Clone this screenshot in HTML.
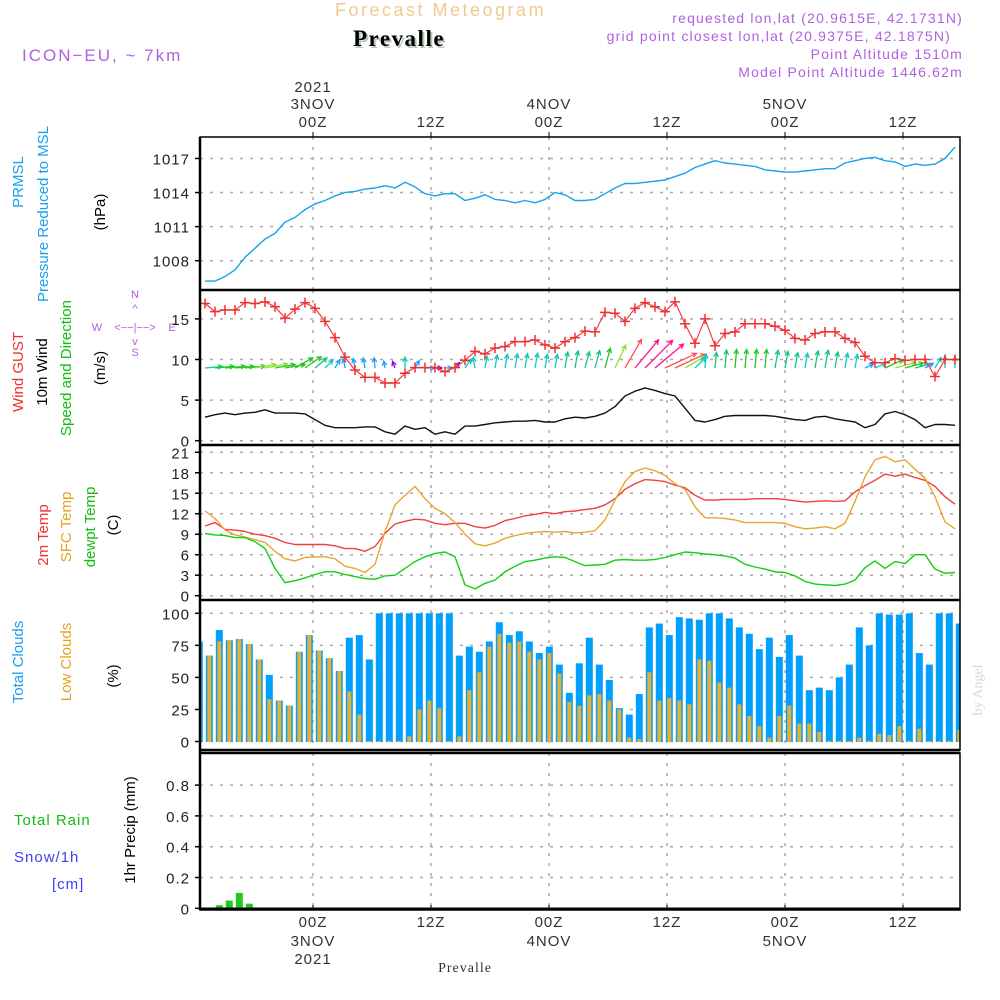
<!DOCTYPE html>
<html><head><meta charset="utf-8"><title>Forecast Meteogram Prevalle</title>
<style>
html,body{margin:0;padding:0;background:#fff;width:1000px;height:1000px;overflow:hidden}
svg{display:block;font-family:"Liberation Sans",sans-serif}
.tk{font-size:15px;fill:#222;letter-spacing:1px}
.tt{font-size:15px;fill:#333;letter-spacing:1px}
.pl{font-size:14px;letter-spacing:1.2px;fill:#b060e0}
</style></head><body>
<svg id="chart" width="1000" height="1000" viewBox="0 0 1000 1000">
<text x="335" y="16" font-size="18" fill="#f2c890" letter-spacing="2.5">Forecast Meteogram</text>
<text x="355" y="48" font-size="23" font-weight="bold" font-family="Liberation Serif,serif" fill="#b8c8b8" letter-spacing="1.5">Prevalle</text>
<text x="353" y="46" font-size="23" font-weight="bold" font-family="Liberation Serif,serif" fill="#000" letter-spacing="1.5">Prevalle</text>
<text x="22" y="61" font-size="17" fill="#b060e0" letter-spacing="2">ICON−EU, ~ 7km</text>
<text class="pl" x="963" y="23" text-anchor="end">requested lon,lat (20.9615E, 42.1731N)</text>
<text class="pl" x="951" y="41" text-anchor="end">grid point closest lon,lat (20.9375E, 42.1875N)</text>
<text class="pl" x="963" y="59" text-anchor="end">Point Altitude 1510m</text>
<text class="pl" x="963" y="77" text-anchor="end">Model Point Altitude 1446.62m</text>

<g font-size="15">
<text transform="translate(23,182) rotate(-90)" text-anchor="middle" fill="#1aa0f0">PRMSL</text>
<text transform="translate(48,214) rotate(-90)" text-anchor="middle" fill="#1aa0f0">Pressure Reduced to MSL</text>
<text transform="translate(105,212) rotate(-90)" text-anchor="middle" fill="#000">(hPa)</text>
<text transform="translate(23,372) rotate(-90)" text-anchor="middle" fill="#f03030">Wind GUST</text>
<text transform="translate(47,372) rotate(-90)" text-anchor="middle" fill="#000">10m Wind</text>
<text transform="translate(71,368) rotate(-90)" text-anchor="middle" fill="#10c010">Speed and Direction</text>
<text transform="translate(105,368) rotate(-90)" text-anchor="middle" fill="#000">(m/s)</text>
<g font-size="11" fill="#b060e0">
<text x="135" y="298" text-anchor="middle">N</text><text x="135" y="312" text-anchor="middle">^</text>
<text x="97" y="331" text-anchor="middle">W</text><text x="135" y="331" text-anchor="middle">&lt;−−|−−&gt;</text>
<text x="172" y="331" text-anchor="middle">E</text><text x="135" y="345" text-anchor="middle">v</text><text x="135" y="356" text-anchor="middle">S</text>
</g>
<text transform="translate(48,535) rotate(-90)" text-anchor="middle" fill="#f03030">2m Temp</text>
<text transform="translate(71,527) rotate(-90)" text-anchor="middle" fill="#e8a020">SFC Temp</text>
<text transform="translate(95,527) rotate(-90)" text-anchor="middle" fill="#10c010">dewpt Temp</text>
<text transform="translate(118,525) rotate(-90)" text-anchor="middle" fill="#000">(C)</text>
<text transform="translate(23,662) rotate(-90)" text-anchor="middle" fill="#1aa0f0">Total Clouds</text>
<text transform="translate(71,662) rotate(-90)" text-anchor="middle" fill="#e8a020">Low Clouds</text>
<text transform="translate(118,676) rotate(-90)" text-anchor="middle" fill="#000">(%)</text>
<text x="14" y="825" fill="#10c010" letter-spacing="1">Total  Rain</text>
<text x="14" y="862" fill="#4040f0" letter-spacing="1">Snow/1h</text>
<text x="52" y="889" fill="#4040f0" letter-spacing="1">[cm]</text>
<text transform="translate(135,830) rotate(-90)" text-anchor="middle" fill="#000">1hr Precip (mm)</text>
</g>
<text transform="translate(982,690) rotate(-90)" text-anchor="middle" font-size="14" font-family="Liberation Serif,serif" fill="#d8d8d8">by Angel</text>
<text x="465" y="972" text-anchor="middle" font-size="14" font-family="Liberation Serif,serif" fill="#333" letter-spacing="1">Prevalle</text>
<g id="marks"></g>
</svg>
<script>
// ---- data ----
var timeTicks=["00Z","12Z","00Z","12Z","00Z","12Z"];
var dayTicks=["3NOV","","4NOV","","5NOV",""];
var yearTicks=["2021","","","","",""];
var pressure=[1006.2,1006.2,1006.6,1007.2,1008.3,1009.1,1009.9,1010.4,1011.4,1011.8,1012.5,1013.0,1013.3,1013.7,1014.0,1014.1,1014.3,1014.4,1014.6,1014.4,1014.9,1014.5,1013.9,1013.7,1013.9,1013.9,1013.3,1013.5,1013.8,1013.4,1013.3,1013.1,1013.3,1013.1,1013.4,1014.0,1013.8,1013.3,1013.3,1013.4,1013.9,1014.4,1014.8,1014.8,1014.9,1015.0,1015.1,1015.4,1015.7,1016.2,1016.5,1016.8,1016.6,1016.5,1016.4,1016.3,1016.0,1015.9,1015.8,1015.8,1015.9,1016.0,1016.1,1016.1,1016.6,1016.8,1017.0,1017.1,1016.8,1016.7,1016.3,1016.5,1016.4,1016.5,1017.0,1018.0];
var gust=[16.9,15.9,16.1,16.1,17.0,16.9,17.1,16.5,15.1,16.2,17.0,16.3,14.7,12.7,10.3,8.7,7.8,7.8,7.1,7.1,8.3,9.0,9.0,9.0,8.5,9.0,9.9,11.0,10.7,11.4,11.6,12.2,12.2,12.4,11.8,11.4,12.2,12.7,13.5,13.4,15.8,15.7,14.7,16.3,17.0,16.5,15.9,17.1,14.4,12.0,15.0,11.7,13.2,13.4,14.4,14.4,14.4,14.1,13.6,12.6,12.4,13.2,13.4,13.4,12.6,12.1,10.4,9.6,9.6,10.1,9.9,10.0,10.0,7.9,10.0,10.0];
var wind10=[2.9,3.2,3.4,3.2,3.4,3.5,3.8,3.4,3.4,3.4,3.3,2.6,1.9,1.6,1.6,1.6,1.7,1.7,1.1,0.8,1.8,1.4,1.6,0.8,1.1,0.8,1.8,1.8,2.0,2.2,2.3,2.4,2.4,2.5,2.3,2.3,2.7,2.9,2.8,3.0,3.4,4.2,5.5,6.1,6.5,6.2,5.8,5.5,4.0,2.5,2.3,2.6,3.0,3.1,3.1,3.1,3.1,3.0,2.8,2.6,2.5,2.9,3.0,2.7,2.5,2.3,1.6,2.0,3.3,3.6,3.2,2.6,1.6,2.0,2.0,1.9];
var windDir=[5,5,5,5,5,10,10,10,10,30,35,40,45,60,100,100,100,95,100,110,90,60,0,0,0,50,55,100,80,80,80,80,80,80,80,80,80,80,75,75,75,65,60,50,45,40,25,25,30,45,85,85,85,85,85,85,85,80,80,80,80,80,80,80,80,80,25,25,25,15,15,15,30,60,90,90];
var temp2m=[10.2,10.7,9.7,9.6,9.4,9.0,8.8,8.4,7.8,7.5,7.5,7.5,7.5,7.3,6.9,6.9,6.5,7.2,9.1,10.5,10.9,11.2,11.1,10.6,10.4,10.6,10.6,10.1,9.9,10.3,11.0,11.3,11.7,11.9,12.2,12.0,12.3,12.4,12.6,12.8,13.3,14.2,15.6,16.4,17.0,16.9,16.7,16.2,15.8,14.7,14.0,14.0,14.1,14.1,14.1,14.2,14.2,14.2,14.1,13.9,13.7,13.8,13.9,13.8,13.9,15.2,16.1,16.9,17.8,17.5,17.8,17.3,16.9,16.0,14.5,13.4];
var sfcTemp=[12.4,11.3,9.6,8.9,8.6,8.2,7.8,6.5,5.4,5.1,5.6,5.7,5.7,5.4,4.3,4.0,3.4,4.6,9.4,13.3,14.7,16.0,14.2,12.8,12.0,10.7,9.0,7.6,7.3,7.7,8.4,8.8,9.1,9.3,9.4,9.3,9.4,9.2,9.3,9.5,11.1,14.0,16.7,18.2,18.7,18.3,17.6,16.4,15.6,13.0,11.4,11.4,11.3,11.1,10.7,10.7,10.7,10.7,10.6,10.1,9.8,9.9,10.1,9.8,10.6,13.8,17.4,19.9,20.4,19.6,19.9,18.5,17.2,14.5,10.8,9.8];
var dewpt=[9.1,8.9,8.8,8.5,8.5,7.9,6.9,4.0,1.9,2.2,2.6,3.1,3.5,3.5,3.1,2.8,2.5,2.4,2.9,3.0,4.0,5.0,5.7,6.2,6.4,5.7,1.6,1.0,1.8,2.3,3.5,4.3,5.0,5.2,5.5,5.7,5.6,5.0,4.4,4.5,4.6,5.2,5.3,5.2,5.2,5.3,5.6,6.0,6.4,6.3,6.1,6.0,5.8,5.5,4.6,4.2,3.9,3.5,3.4,2.9,2.1,1.7,1.6,1.5,1.7,2.3,4.1,5.1,4.0,5.0,4.7,6.0,6.0,3.9,3.3,3.4];
var totalClouds=[78,67,87,79,80,76,64,52,32,28,70,83,71,65,55,81,83,64,100,100,100,100,100,100,100,100,67,74,70,78,93,83,86,78,69,74,60,38,61,81,60,48,26,21,37,89,92,83,97,96,95,100,100,96,89,84,72,81,66,83,67,40,42,40,50,60,89,75,100,99,99,100,69,60,100,100,92];
var lowClouds=[78,67,78,79,80,76,64,33,32,28,70,83,71,65,55,39,21,0.5,0.5,0.5,0.5,4,25,32,26,0.5,4,40,54,74,84,77,78,70,64,69,53,31,28,36,37,32,25,3,2,54,32,34,32,29,64,63,46,42,29,20,12,3,20,28,14,14,7.5,0.5,0.5,0.5,3,0.5,6,5,12,0.5,10,0.5,0.5,0.5,9];
var precip=[0,0,0.02,0.05,0.1,0.03,0,0,0,0,0,0,0,0,0,0,0,0,0,0,0,0,0,0,0,0,0,0,0,0,0,0,0,0,0,0,0,0,0,0,0,0,0,0,0,0,0,0,0,0.005,0,0,0,0,0,0,0,0,0,0,0,0,0,0,0,0,0,0,0,0,0,0,0,0,0,0,0];
var pTicks=[1008,1011,1014,1017];
var wTicks=[0,5,10,15];
var tTicks=[0,3,6,9,12,15,18,21];
var cTicks=[0,25,50,75,100];
var rTicks=[0,0.2,0.4,0.6,0.8];

// ---- axes ----
var L=200,R=960;
function lx(k){return 205+10*k;}
function bx(i){return 199.3+10*i;}
function gx(j){return 313+118*j;}
function yP(v){return 260.7-(v-1008)*11.36;}
function yW(v){return 440.7-v*8.12;}
function yT(v){return 595.7-v*6.83;}
function yC(v){return 741.5-v*1.282;}
function yR(v){return 908.3-v*154;}
var NS="http://www.w3.org/2000/svg";
var G=document.getElementById('marks');
function mk(tag,at,par){var e=document.createElementNS(NS,tag);for(var a in at)e.setAttribute(a,at[a]);(par||G).appendChild(e);return e;}

var panels=[[137,290,yP,pTicks,function(v){return v}],[290,445,yW,wTicks,function(v){return v}],[445,600,yT,tTicks,function(v){return v}],[600,750,yC,cTicks,function(v){return v}],[753,910,yR,rTicks,function(v){return v===0?"0":v.toFixed(1)}]];
var pnames=['pressure','wind','temperature','clouds','precip'];
panels.forEach(function(p,pi){
  var g=mk('g',{});
  
  
  p[3].forEach(function(v){
    var y=p[2](v);
    mk('line',{x1:L,x2:R,y1:y,y2:y,stroke:'#aaa','stroke-width':1.5,'stroke-dasharray':'3,7'},g);
    mk('line',{x1:L-5,x2:L,y1:y,y2:y,stroke:'#000','stroke-width':1.5},g);
    var t=mk('text',{x:L-10,y:y+6,'text-anchor':'end','class':'tk'},g);
    t.textContent=p[4](v);
    
    
  });
  for(var j=0;j<6;j++){
    mk('line',{x1:gx(j),x2:gx(j),y1:p[0],y2:p[1],stroke:'#aaa','stroke-width':1.5,'stroke-dasharray':'3,7'},g);
  }
});

// top / bottom time labels
for(var j=0;j<6;j++){
  var x=gx(j);
  mk('line',{x1:x,x2:x,y1:132,y2:137,stroke:'#000'});
  mk('line',{x1:x,x2:x,y1:910,y2:905,stroke:'#000'});
  var lines=[[yearTicks[j],92],[dayTicks[j],109],[timeTicks[j],127]];
  lines.forEach(function(l){ if(!l[0])return;
    var t=mk('text',{x:x,y:l[1],'text-anchor':'middle','class':'tt'});t.textContent=l[0];
    
    });
  var bl=[[timeTicks[j],927],[dayTicks[j],946],[yearTicks[j],964]];
  bl.forEach(function(l){ if(!l[0])return;
    var t=mk('text',{x:x,y:l[1],'text-anchor':'middle','class':'tt'});t.textContent=l[0];
    
    });
}

function line(arr,yf,col,name,w){
  var d=arr.map(function(v,k){return (k?'L':'M')+lx(k).toFixed(1)+','+yf(v).toFixed(1);}).join('');
  var p=mk('path',{d:d,fill:'none',stroke:col,'stroke-width':w||1.4,'stroke-linejoin':'round'});
  
  
  return p;
}
// pressure
line(pressure,yP,'#1aa0f0','pressure-line');
// wind
line(wind10,yW,'#111','wind10m-line');
function wcol(s){if(s<1)return'#8010e0';if(s<1.8)return'#20a0ff';if(s<2.6)return'#10c8c0';if(s<3.1)return'#10c880';if(s<3.5)return'#20c820';if(s<4.5)return'#90e030';if(s<5.5)return'#e0d020';if(s<6)return'#ff5050';return'#ff1090';}
var ag=mk('g',{});


windDir.forEach(function(dg,k){
  var s=wind10[k],len=Math.max(7,6*s),a=dg*Math.PI/180;
  var x0=lx(k),y0=368,x1=x0+len*Math.cos(a),y1=y0-len*Math.sin(a),c=wcol(s);
  var h=5,a1=a+Math.PI*0.85,a2=a-Math.PI*0.85;
  var p=mk('path',{d:'M'+x0+','+y0+'L'+x1+','+y1+'M'+(x1+h*Math.cos(a1))+','+(y1-h*Math.sin(a1))+'L'+x1+','+y1+'L'+(x1+h*Math.cos(a2))+','+(y1-h*Math.sin(a2)),stroke:c,'stroke-width':1.3,fill:'none'},ag);
  
  
});
line(gust,yW,'#f04040','gust-line',1.2);
gust.forEach(function(v,k){
  var x=lx(k),y=yW(v);
  var p=mk('path',{d:'M'+(x-5)+','+y+'H'+(x+5)+'M'+x+','+(y-5)+'V'+(y+5),stroke:'#f03030','stroke-width':1.5});
  
  
});
// temperatures
line(temp2m,yT,'#f04040','temp2m-line');
line(sfcTemp,yT,'#e8a530','sfc-temp-line');
line(dewpt,yT,'#10d010','dewpt-line');
// clouds
totalClouds.forEach(function(v,i){
  var x=bx(i),x0=Math.max(L,x-3.5),x1=Math.min(R,x+3.5);
  var r=mk('rect',{x:x0,y:yC(v),width:x1-x0,height:yC(0)-yC(v)+0.5,fill:'#00a0ff'});
  
  
  var l=lowClouds[i];
  var x2=Math.max(L,x-2),x3=Math.min(R,x+2);
  var q=mk('rect',{x:x2,y:yC(l),width:Math.max(0,x3-x2),height:yC(0)-yC(l)+0.5,fill:'#e8b030'});
  
  
});
// precip
precip.forEach(function(v,i){
  if(v<=0)return;
  var r=mk('rect',{x:bx(i)-3.5,y:yR(v),width:7,height:yR(0)-yR(v),fill:'#20c820'});
  
  
});
// frames
var fr=mk('g',{});


mk('rect',{x:L,y:137,width:R-L,height:153,fill:'none',stroke:'#000','stroke-width':1.5},fr);
mk('rect',{x:L,y:290,width:R-L,height:155,fill:'none',stroke:'#000','stroke-width':1.5},fr);
mk('rect',{x:L,y:445,width:R-L,height:155,fill:'none',stroke:'#000','stroke-width':1.5},fr);
mk('rect',{x:L,y:600,width:R-L,height:150,fill:'none',stroke:'#000','stroke-width':1.5},fr);
mk('rect',{x:L,y:753,width:R-L,height:157,fill:'none',stroke:'#000','stroke-width':1.5},fr);
[290,445,600,750,753].forEach(function(y){mk('line',{x1:L,x2:R,y1:y,y2:y,stroke:'#000','stroke-width':2.5},fr);});
mk('line',{x1:L,x2:L,y1:137,y2:910,stroke:'#000','stroke-width':2.5},fr);
mk('line',{x1:L,x2:R,y1:908.5,y2:908.5,stroke:'#000','stroke-width':2},fr);
</script>
</body></html>
